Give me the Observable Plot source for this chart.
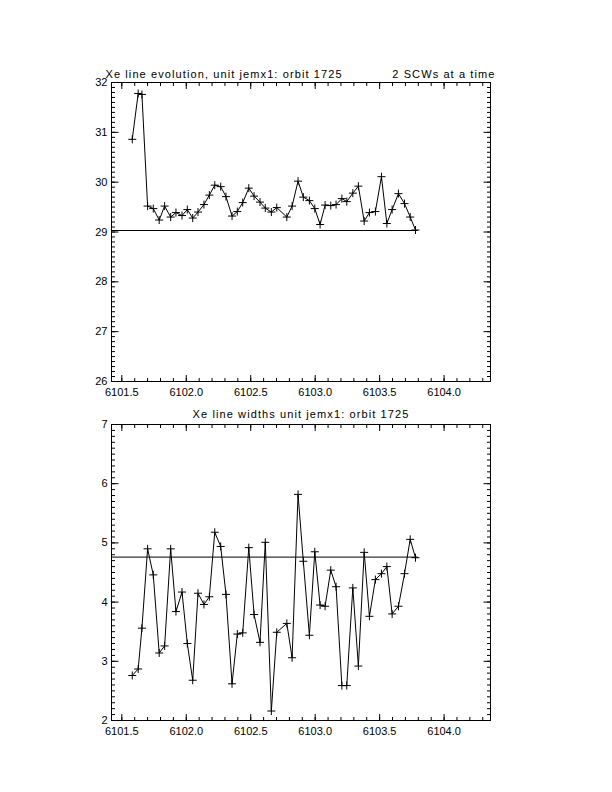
<!DOCTYPE html>
<html>
<head>
<meta charset="utf-8">
<script src="https://cdn.jsdelivr.net/npm/d3@7"></script>
<script src="https://cdn.jsdelivr.net/npm/@observablehq/plot@0.6"></script>
<style>
  html, body { margin: 0; padding: 0; background: #fff; }
  #chart { width: 612px; height: 792px; position: relative; }
  #chart svg { display: block; }
  #chart g[aria-label="text"] text { letter-spacing: 1.1px; }
</style>
</head>
<body>
<div id="chart"></div>
<script>
// ---- data ----
const times = [6101.581, 6101.627, 6101.656, 6101.700, 6101.744, 6101.790, 6101.832, 6101.879, 6101.920, 6101.967,
  6102.008, 6102.050, 6102.091, 6102.137, 6102.179, 6102.221, 6102.267, 6102.308, 6102.355, 6102.396,
  6102.438, 6102.485, 6102.526, 6102.572, 6102.613, 6102.660, 6102.702, 6102.780, 6102.821, 6102.867,
  6102.908, 6102.955, 6102.997, 6103.038, 6103.077, 6103.121, 6103.162, 6103.207, 6103.245, 6103.292,
  6103.335, 6103.380, 6103.421, 6103.467, 6103.514, 6103.556, 6103.597, 6103.646, 6103.693, 6103.737, 6103.778];
const lineEnergy = [30.86, 31.78, 31.76, 29.52, 29.47, 29.24, 29.52, 29.30, 29.39, 29.33,
  29.45, 29.28, 29.40, 29.55, 29.74, 29.94, 29.91, 29.71, 29.32, 29.41,
  29.59, 29.88, 29.72, 29.60, 29.48, 29.40, 29.49, 29.30, 29.52, 30.02,
  29.70, 29.63, 29.47, 29.15, 29.54, 29.53, 29.55, 29.67, 29.61, 29.78,
  29.92, 29.22, 29.39, 29.41, 30.11, 29.17, 29.45, 29.77, 29.57, 29.30, 29.04];
const lineWidth = [2.76, 2.87, 3.56, 4.90, 4.46, 3.14, 3.26, 4.90, 3.84, 4.17,
  3.30, 2.68, 4.15, 3.96, 4.09, 5.18, 4.94, 4.13, 2.62, 3.46,
  3.48, 4.92, 3.79, 3.32, 5.01, 2.16, 3.49, 3.64, 3.06, 5.82,
  4.69, 3.44, 4.85, 3.95, 3.93, 4.54, 4.26, 2.59, 2.59, 4.24,
  2.92, 4.84, 3.76, 4.38, 4.48, 4.60, 3.80, 3.93, 4.48, 5.06, 4.75];
const energyRef = 29.03;
const widthRef = 4.76;
const refEnd = 6103.80;
const xDomain = [6101.42, 6104.36];
const xMajor = [6101.5, 6102.0, 6102.5, 6103.0, 6103.5, 6104.0];
const energyDomain = [26, 32];
const energyMajor = [26, 27, 28, 29, 30, 31, 32];
const widthDomain = [2, 7];
const widthMajor = [2, 3, 4, 5, 6, 7];
const title1 = "Xe line evolution, unit jemx1: orbit 1725";
const title1Right = "2 SCWs at a time";
const title2 = "Xe line widths unit jemx1: orbit 1725";

const xMinor = d3.ticks(xDomain[0], xDomain[1], 30);

function panel({values, yDomain, yMajor, ref, height, marginTop, marginBottom, titles}) {
  const data = times.map((t, i) => ({t, v: values[i]}));
  const yMinor = d3.ticks(yDomain[0], yDomain[1], (yDomain[1] - yDomain[0]) * 10);
  const blank = () => "";
  return Plot.plot({
    width: 612,
    height,
    marginTop,
    marginBottom,
    marginLeft: 111,
    marginRight: 122,
    style: {fontFamily: "'Liberation Sans', Arial, sans-serif", fontSize: "11px", color: "black", background: "white", overflow: "visible"},
    x: {domain: xDomain, label: null},
    y: {domain: yDomain, label: null},
    marks: [
      Plot.frame({stroke: "black"}),
      Plot.axisX(xMajor, {anchor: "bottom", tickSize: -6, tickPadding: 13, tickFormat: d3.format(".1f")}),
      Plot.axisX(xMinor, {anchor: "bottom", tickSize: -3, tickFormat: blank}),
      Plot.axisX(xMajor, {anchor: "top", tickSize: -6, tickFormat: blank}),
      Plot.axisX(xMinor, {anchor: "top", tickSize: -3, tickFormat: blank}),
      Plot.axisY(yMajor, {anchor: "left", tickSize: -7.5, tickPadding: 11.5, tickFormat: d3.format("d")}),
      Plot.axisY(yMinor, {anchor: "left", tickSize: -4, tickFormat: blank}),
      Plot.axisY(yMajor, {anchor: "right", tickSize: -7.5, tickFormat: blank}),
      Plot.axisY(yMinor, {anchor: "right", tickSize: -4, tickFormat: blank}),
      Plot.ruleY([ref], {x1: xDomain[0], x2: refEnd, stroke: "black", strokeWidth: 1}),
      Plot.line(data, {x: "t", y: "v", stroke: "black", strokeWidth: 1}),
      Plot.dot(data, {x: "t", y: "v", symbol: "plus", r: 2.7, stroke: "black", strokeWidth: 1}),
      ...titles
    ]
  });
}

const titleStyle = {fill: "black", fontSize: 11};

const topPanel = panel({
  values: lineEnergy, yDomain: energyDomain, yMajor: energyMajor, ref: energyRef,
  height: 396, marginTop: 82, marginBottom: 15,
  titles: [
    Plot.text([title1], {frameAnchor: "top-left", dx: -6, dy: -8, textAnchor: "start", lineAnchor: "middle", ...titleStyle}),
    Plot.text([title1Right], {frameAnchor: "top-right", dx: 5, dy: -8, textAnchor: "end", lineAnchor: "middle", ...titleStyle})
  ]
});
const bottomPanel = panel({
  values: lineWidth, yDomain: widthDomain, yMajor: widthMajor, ref: widthRef,
  height: 396, marginTop: 28, marginBottom: 72,
  titles: [
    Plot.text([title2], {frameAnchor: "top", dy: -10, textAnchor: "middle", lineAnchor: "middle", ...titleStyle})
  ]
});
document.getElementById("chart").append(topPanel, bottomPanel);
</script>
</body>
</html>
